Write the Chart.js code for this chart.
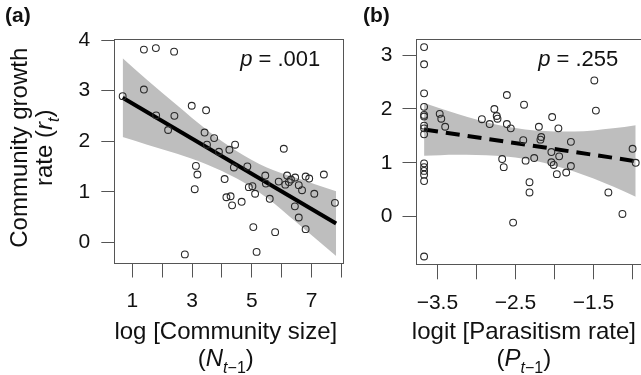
<!DOCTYPE html>
<html>
<head>
<meta charset="utf-8">
<title>Community growth rate</title>
<script src="https://cdn.jsdelivr.net/npm/chart.js@4.4.1/dist/chart.umd.min.js"></script>
<style>
  html, body { margin: 0; padding: 0; background: #fff; overflow: hidden; }
  #wrap { position: relative; width: 641px; height: 375px; overflow: hidden; }
  canvas { position: absolute; top: 0; }
  #chartA { left: 0; }
  #chartB { left: 358px; }
</style>
</head>
<body>
<div id="wrap">
  <canvas id="chartA" width="360" height="375"></canvas>
  <canvas id="chartB" width="302" height="375"></canvas>
</div>
<script>
// ---- panel (a): growth rate vs log community size ----
const aPointX = [0.68, 1.39, 1.39, 1.79, 1.80, 2.20, 2.40, 2.41, 2.99, 3.47, 3.42, 3.50, 3.74, 3.90,
                 4.25, 4.44, 4.40, 3.13, 3.18, 3.09, 4.09, 4.15, 4.29, 4.34, 4.66, 4.85, 4.90, 5.02,
                 5.11, 5.45, 5.47, 5.60, 5.05, 5.16, 2.76, 5.78, 5.90, 6.07, 6.12, 6.18, 6.24, 6.31,
                 6.45, 6.44, 6.57, 6.57, 6.68, 6.80, 6.92, 6.80, 7.09, 7.41, 7.78];
const aPointY = [2.89, 3.81, 3.02, 3.84, 2.51, 2.22, 3.77, 2.50, 2.70, 2.61, 2.17, 1.93, 2.06, 1.79,
                 1.83, 1.93, 1.48, 1.51, 1.34, 1.05, 1.25, 0.89, 0.91, 0.73, 0.80, 1.50, 1.09, 1.11,
                 0.96, 1.32, 1.16, 0.86, 0.30, -0.19, -0.24, 0.20, 1.20, 1.85, 1.14, 1.32, 1.19, 1.24,
                 1.28, 0.71, 1.13, 0.49, 1.03, 1.30, 1.26, 0.26, 0.96, 1.34, 0.78];
const aFitX = [0.68, 7.82];
const aFitY = [2.86, 0.37];
const aBandX = [0.68, 1.5, 2.5, 3.5, 4.5, 5.5, 6.5, 7.82];
const aBandUpper = [3.64, 3.21, 2.71, 2.22, 1.80, 1.48, 1.27, 1.01];
const aBandLower = [2.08, 1.93, 1.75, 1.54, 1.26, 0.88, 0.39, -0.27];
const aXTicks = [1, 2, 3, 4, 5, 6, 7, 8];
const aXLabels = ['1', '', '3', '', '5', '', '7', ''];
const aYTicks = [0, 1, 2, 3, 4];
const aYLabels = ['0', '1', '2', '3', '4'];

// ---- panel (b): growth rate vs logit parasitism rate ----
const bPointX = [-3.67, -3.67, -3.67, -3.67, -3.67, -3.67, -3.67, -3.67, -3.67, -3.67, -3.67, -3.67,
                 -3.67, -3.67, -3.67, -3.47, -3.45, -3.40, -2.93, -2.83, -2.77, -2.74, -2.73, -2.61,
                 -2.61, -2.56, -2.67, -2.65, -2.53, -2.40, -2.39, -2.37, -2.32, -2.32, -2.26, -2.20,
                 -2.17, -2.18, -2.03, -2.04, -2.04, -2.01, -1.97, -1.95, -1.94, -1.85, -1.79, -1.79,
                 -1.49, -1.47, -1.31, -1.13, -1.00, -0.96];
const bPointY = [3.15, 2.83, 2.29, 2.04, 1.89, 1.86, 1.69, 1.64, 1.53, 0.99, 0.92, 0.85,
                 0.78, 0.66, -0.74, 1.91, 1.82, 1.67, 1.81, 1.72, 2.00, 1.87, 1.82, 2.26,
                 1.72, 1.64, 1.07, 0.92, -0.11, 1.42, 2.08, 1.04, 0.64, 0.45, 1.09, 1.67,
                 1.48, 1.43, 1.85, 1.20, 1.01, 0.96, 0.79, 1.64, 1.12, 0.82, 1.39, 0.94,
                 2.53, 1.97, 0.45, 0.05, 1.26, 1.00];
const bFitX = [-3.67, -0.96];
const bFitY = [1.62, 1.03];
const bBandX = [-3.67, -3.25, -2.75, -2.25, -1.75, -1.25, -0.96];
const bBandUpper = [2.11, 1.91, 1.71, 1.60, 1.58, 1.64, 1.70];
const bBandLower = [1.13, 1.15, 1.13, 1.04, 0.84, 0.56, 0.37];
const bXTicks = [-3.5, -3, -2.5, -2, -1.5, -1];
const bXLabels = ['\u22123.5', '', '\u22122.5', '', '\u22121.5', ''];
const bYTicks = [0, 1, 2, 3];
const bYLabels = ['0', '1', '2', '3'];

const FONT = '"Liberation Sans", Arial, Helvetica, sans-serif';
const TEXT_COLOR = '#111';
const AXIS_COLOR = '#555';
const BAND_COLOR = '#bebebe';
const POINT_COLOR = '#2a2a2a';

function toXY(xs, ys) {
    return xs.map((x, i) => ({ x: x, y: ys[i] }));
}

/**
 * Draw a run of text pieces [text, italic, subscript] centred on cx
 */
function drawRich(ctx, parts, cx, baseline, size) {
    const fontFor = p => (p[1] ? 'italic ' : '') + (p[2] ? Math.round(size * 0.66) : size) + 'px ' + FONT;
    let total = 0;
    parts.forEach(p => { ctx.font = fontFor(p); total += ctx.measureText(p[0]).width; });
    let x = cx - total / 2;
    ctx.textAlign = 'left';
    ctx.textBaseline = 'alphabetic';
    parts.forEach(p => {
        ctx.font = fontFor(p);
        ctx.fillText(p[0], x, baseline + (p[2] ? size * 0.28 : 0));
        x += ctx.measureText(p[0]).width;
    });
    return total;
}

// Box, panel tag, p value and axis titles (R style)
const panelDecor = {
    id: 'panelDecor',
    afterDraw(chart, args, opts) {
        const ctx = chart.ctx;
        const area = chart.chartArea;
        ctx.save();
        ctx.strokeStyle = AXIS_COLOR;
        ctx.lineWidth = 1;
        ctx.strokeRect(Math.round(area.left) + 0.5, Math.round(area.top) + 0.5,
            Math.round(area.right - area.left), Math.round(area.bottom - area.top));

        ctx.fillStyle = TEXT_COLOR;
        ctx.font = 'bold 21px ' + FONT;
        ctx.textAlign = 'left';
        ctx.textBaseline = 'alphabetic';
        ctx.fillText(opts.tag, opts.tagX, 22);

        // p value, right aligned inside the box
        const pParts = [['p', true, false], [' = ' + opts.pText, false, false]];
        ctx.font = '22px ' + FONT;
        const pw = ctx.measureText('p').width + ctx.measureText(' = ' + opts.pText).width;
        drawRich(ctx, pParts, area.right - opts.pRight - pw / 2, 66, 22);

        // x axis title, two lines
        const cx = (area.left + area.right) / 2 + opts.xTitleShift;
        drawRich(ctx, opts.xTitle1, cx, 339, 24);
        drawRich(ctx, opts.xTitle2, cx, 366, 24);

        // y axis title (rotated)
        if (opts.yTitle1) {
            const cy = (area.top + area.bottom) / 2 - 3;
            ctx.save();
            ctx.translate(27, cy);
            ctx.rotate(-Math.PI / 2);
            drawRich(ctx, opts.yTitle1, 0, 0, 24);
            ctx.restore();
            ctx.save();
            ctx.translate(52, cy);
            ctx.rotate(-Math.PI / 2);
            drawRich(ctx, opts.yTitle2, 0, 0, 24);
            ctx.restore();
        }
        ctx.restore();
    }
};

function makeScales(o) {
    const tickFont = { size: 21, family: FONT };
    return {
        x: {
            type: 'linear',
            position: 'bottom',
            min: o.xMin,
            max: o.xMax,
            afterBuildTicks: s => { s.ticks = o.xTicks.map(v => ({ value: v })); },
            afterFit: s => { s.height = o.xHeight; s.paddingLeft = 0; s.paddingRight = 0; },
            ticks: {
                callback: (v, i) => o.xLabels[i],
                font: tickFont, color: TEXT_COLOR, padding: 11,
                maxRotation: 0, autoSkip: false
            },
            grid: { drawOnChartArea: false, drawTicks: true, tickLength: 15, color: AXIS_COLOR, lineWidth: 1 },
            border: { display: false }
        },
        y: {
            type: 'linear',
            position: 'left',
            min: o.yMin,
            max: o.yMax,
            afterBuildTicks: s => { s.ticks = o.yTicks.map(v => ({ value: v })); },
            afterFit: s => { s.width = o.yWidth; s.paddingTop = 0; s.paddingBottom = 0; },
            ticks: {
                callback: (v, i) => o.yLabels[i],
                font: tickFont, color: TEXT_COLOR, padding: o.yPad, autoSkip: false
            },
            grid: { drawOnChartArea: false, drawTicks: true, tickLength: 13, color: AXIS_COLOR, lineWidth: 1 },
            border: { display: false }
        }
    };
}

function makeDatasets(px, py, fx, fy, bx, bu, bl, dash) {
    return [
        {
            data: toXY(px, py), showLine: false, order: 0,
            pointRadius: 3.4, pointBorderWidth: 1.1, pointBorderColor: POINT_COLOR,
            pointBackgroundColor: 'rgba(0,0,0,0)'
        },
        {
            data: toXY(fx, fy), showLine: true, order: 1, pointRadius: 0,
            borderColor: '#000', borderWidth: 4, borderDash: dash, borderCapStyle: 'butt'
        },
        {
            data: toXY(bx, bu), showLine: true, order: 2, pointRadius: 0,
            borderWidth: 0, borderColor: 'rgba(0,0,0,0)', backgroundColor: BAND_COLOR,
            fill: '+1', cubicInterpolationMode: 'monotone'
        },
        {
            data: toXY(bx, bl), showLine: true, order: 3, pointRadius: 0,
            borderWidth: 0, borderColor: 'rgba(0,0,0,0)', fill: false,
            cubicInterpolationMode: 'monotone'
        }
    ];
}

function makeChart(canvasId, datasets, scales, padRight, decor) {
    return new Chart(document.getElementById(canvasId), {
        type: 'scatter',
        data: { datasets: datasets },
        options: {
            responsive: false,
            animation: false,
            devicePixelRatio: 1,
            events: [],
            layout: { padding: { left: 0, top: 39, right: padRight, bottom: 0 } },
            plugins: { legend: { display: false }, tooltip: { enabled: false }, panelDecor: decor },
            scales: scales
        },
        plugins: [panelDecor]
    });
}

makeChart('chartA',
    makeDatasets(aPointX, aPointY, aFitX, aFitY, aBandX, aBandUpper, aBandLower, []),
    makeScales({
        xMin: 0.40, xMax: 8.06, yMin: -0.40, yMax: 4.02,
        xTicks: aXTicks, xLabels: aXLabels, yTicks: aYTicks, yLabels: aYLabels,
        xHeight: 112.5, yWidth: 114.3, yPad: 11
    }),
    16.7,
    {
        tag: '(a)', tagX: 5, pText: '.001', pRight: 23, xTitleShift: -3,
        xTitle1: [['log [Community size]', false, false]],
        xTitle2: [['(', false, false], ['N', true, false], ['t', true, true], ['\u22121', false, true], [')', false, false]],
        yTitle1: [['Community growth', false, false]],
        yTitle2: [['rate (', false, false], ['r', true, false], ['t', true, true], [')', false, false]]
    });

makeChart('chartB',
    makeDatasets(bPointX, bPointY, bFitX, bFitY, bBandX, bBandUpper, bBandLower, [14, 8]),
    makeScales({
        xMin: -3.78, xMax: -0.85, yMin: -0.885, yMax: 3.30,
        xTicks: bXTicks, xLabels: bXLabels, yTicks: bYTicks, yLabels: bYLabels,
        xHeight: 110.7, yWidth: 57.5, yPad: 10
    }),
    15.7,
    {
        tag: '(b)', tagX: 5, pText: '.255', pRight: 26, xTitleShift: -6,
        xTitle1: [['logit [Parasitism rate]', false, false]],
        xTitle2: [['(', false, false], ['P', true, false], ['t', true, true], ['\u22121', false, true], [')', false, false]]
    });
</script>
</body>
</html>
